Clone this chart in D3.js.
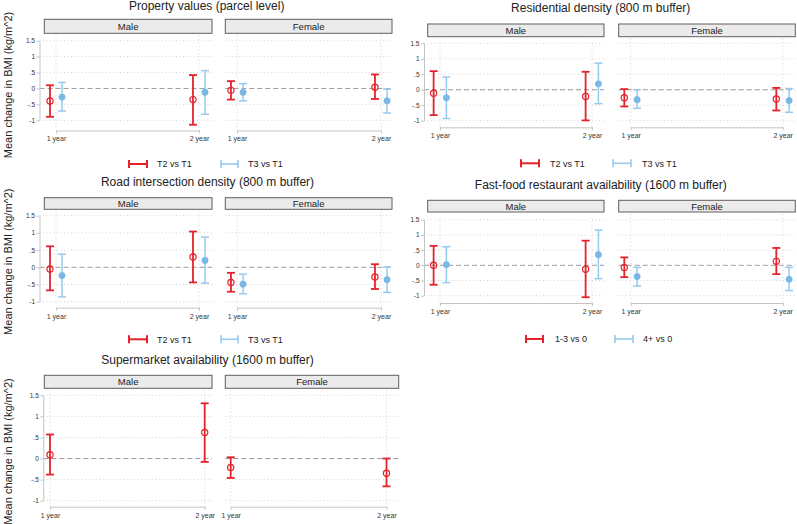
<!DOCTYPE html>
<html><head><meta charset="utf-8">
<script src="https://cdn.jsdelivr.net/npm/d3@7"></script>
<style>body{margin:0;background:#fff} svg{display:block;font-family:"Liberation Sans",Arial,sans-serif}</style>
</head><body><svg id="c" width="797" height="524"></svg>
<script>
// ---------- data ----------
const periods = [1, 2];
const periodLabels = ["1 year", "2 year"];
const sexes = ["Male", "Female"];
const yTicks = [1.5, 1, 0.5, 0, -0.5, -1];
const yTickLabels = ["1.5", "1", ".5", "0", "-.5", "-1"];
const yTitle = "Mean change in BMI (kg/m^2)";
const panelTitles = [
  "Property values (parcel level)",
  "Residential density (800 m buffer)",
  "Road intersection density (800 m buffer)",
  "Fast-food restaurant availability (1600 m buffer)",
  "Supermarket availability (1600 m buffer)"
];
const legendTercile = ["T2 vs T1", "T3 vs T1"];
const legendFastFood = ["1-3 vs 0", "4+ vs 0"];

// order of values: Male 1 year, Male 2 year, Female 1 year, Female 2 year
const propT2Est = [-0.39, -0.35, -0.06, 0.04];
const propT2Lo  = [-0.89, -1.14, -0.35, -0.33];
const propT2Hi  = [0.10, 0.42, 0.23, 0.44];
const propT3Est = [-0.27, -0.12, -0.12, -0.39];
const propT3Lo  = [-0.71, -0.81, -0.39, -0.77];
const propT3Hi  = [0.19, 0.56, 0.15, -0.02];

const resT2Est = [-0.11, -0.22, -0.26, -0.30];
const resT2Lo  = [-0.82, -0.99, -0.54, -0.67];
const resT2Hi  = [0.60, 0.58, 0.02, 0.06];
const resT3Est = [-0.26, 0.19, -0.32, -0.35];
const resT3Lo  = [-0.93, -0.45, -0.60, -0.73];
const resT3Hi  = [0.41, 0.86, 0.00, 0.04];

const roadT2Est = [-0.05, 0.30, -0.44, -0.28];
const roadT2Lo  = [-0.67, -0.44, -0.71, -0.63];
const roadT2Hi  = [0.61, 1.04, -0.16, 0.09];
const roadT3Est = [-0.24, 0.20, -0.49, -0.36];
const roadT3Lo  = [-0.86, -0.46, -0.77, -0.73];
const roadT3Hi  = [0.38, 0.88, -0.20, 0.01];

const ffLowEst  = [0.00, -0.13, -0.07, 0.13];
const ffLowLo   = [-0.64, -1.05, -0.39, -0.29];
const ffLowHi   = [0.64, 0.81, 0.26, 0.57];
const ffHighEst = [0.02, 0.35, -0.37, -0.46];
const ffHighLo  = [-0.57, -0.44, -0.68, -0.83];
const ffHighHi  = [0.61, 1.16, -0.07, -0.07];

const smEst = [0.09, 0.62, -0.21, -0.35];
const smLo  = [-0.38, -0.08, -0.46, -0.66];
const smHi  = [0.57, 1.31, 0.03, 0.00];

// ---------- styles ----------
const RED = "#e3222b", BLUE_BAR = "#96caee", BLUE_PT = "#78b8e6";

const panels = [
  { title: panelTitles[0], legend: legendTercile,
    series: [{est: propT2Est, lo: propT2Lo, hi: propT2Hi}, {est: propT3Est, lo: propT3Lo, hi: propT3Hi}],
    L: {titleX: 206.7, titleY: 10, stripY: [19.3, 33.3], strips: [[44.3, 212], [225.3, 392]],
        plotX: [[39.5, 212], [225.3, 392]], ticks: [[56, 199], [237, 381]], yAxisX: 39.5,
        yRange: [120.3, 40.7], axisY: 130.5, legendY: 164, legendX: [[129, 147, 157], [221, 238, 248]], yTitleY: 85 } },
  { title: panelTitles[1], legend: legendTercile,
    series: [{est: resT2Est, lo: resT2Lo, hi: resT2Hi}, {est: resT3Est, lo: resT3Lo, hi: resT3Hi}],
    L: {titleX: 600.7, titleY: 12, stripY: [24, 36.7], strips: [[427.7, 604], [618.7, 795.3]],
        plotX: [[424, 604], [618.7, 795.3]], ticks: [[440, 592], [630.7, 782.7]], yAxisX: 424,
        yRange: [120.7, 43.3], axisY: 127.3, legendY: 163.3, legendX: [[521, 539, 550], [613, 631, 642]], yTitleY: null } },
  { title: panelTitles[2], legend: legendTercile,
    series: [{est: roadT2Est, lo: roadT2Lo, hi: roadT2Hi}, {est: roadT3Est, lo: roadT3Lo, hi: roadT3Hi}],
    L: {titleX: 207.5, titleY: 186, stripY: [197.7, 209.3], strips: [[44.3, 212], [225.3, 392]],
        plotX: [[39.5, 212], [225.3, 392]], ticks: [[56, 199], [237, 381]], yAxisX: 39.5,
        yRange: [301.7, 215.7], axisY: 307.7, legendY: 339.3, legendX: [[129, 147, 157], [221, 238, 248]], yTitleY: 261.7 } },
  { title: panelTitles[3], legend: legendFastFood,
    series: [{est: ffLowEst, lo: ffLowLo, hi: ffLowHi}, {est: ffHighEst, lo: ffHighLo, hi: ffHighHi}],
    L: {titleX: 600.8, titleY: 189, stripY: [200.3, 212], strips: [[427.7, 604], [618.7, 795.3]],
        plotX: [[424, 604], [618.7, 795.3]], ticks: [[440, 592], [630.7, 782.7]], yAxisX: 424,
        yRange: [295.7, 219.7], axisY: 303, legendY: 339, legendX: [[526, 543, 555], [615, 633, 643]], yTitleY: null } },
  { title: panelTitles[4], legend: null,
    series: [{est: smEst, lo: smLo, hi: smHi}],
    L: {titleX: 207.5, titleY: 364, stripY: [375.3, 388.3], strips: [[44.3, 212], [225.3, 398.7]],
        plotX: [[43.3, 212], [225.3, 398.7]], ticks: [[50, 204.7], [230.7, 386.5]], yAxisX: 43.3,
        yRange: [500.7, 395.3], axisY: 506.7, legendY: null, legendX: null, yTitleY: 451.5 } }
];

const svg = d3.select("#c");
svg.append("rect").attr("width", 797).attr("height", 524).attr("fill", "#fff");

const seriesStyle = [
  {bar: RED, width: 1.8, fill: "none", stroke: RED},
  {bar: BLUE_BAR, width: 1.5, fill: BLUE_PT, stroke: BLUE_PT}
];

panels.forEach(p => {
  const L = p.L;
  const g = svg.append("g");
  // title
  g.append("text").attr("x", L.titleX).attr("y", L.titleY).attr("text-anchor", "middle")
    .attr("font-size", 12).attr("fill", "#222").text(p.title);
  // y title
  if (L.yTitleY !== null) {
    g.append("text").attr("transform", `translate(11.5,${L.yTitleY}) rotate(-90)`)
      .attr("text-anchor", "middle").attr("font-size", 11).attr("fill", "#222").text(yTitle);
  }
  const y = d3.scaleLinear().domain([-1, 1.5]).range(L.yRange);
  const nS = p.series.length;
  const offsets = nS === 2 ? [-0.042, 0.042] : [0];

  sexes.forEach((sex, si) => {
    const x = d3.scaleLinear().domain([1, 2]).range(L.ticks[si]);
    const [px0, px1] = L.plotX[si];
    const plotTop = L.stripY[1] + 2;
    // strip
    g.append("rect").attr("x", L.strips[si][0]).attr("y", L.stripY[0])
      .attr("width", L.strips[si][1] - L.strips[si][0]).attr("height", L.stripY[1] - L.stripY[0])
      .attr("fill", "#ebebeb").attr("stroke", "#5e5e5e").attr("stroke-width", 1);
    g.append("text").attr("x", (L.strips[si][0] + L.strips[si][1]) / 2)
      .attr("y", (L.stripY[0] + L.stripY[1]) / 2 + 3.4).attr("text-anchor", "middle")
      .attr("font-size", 9.5).attr("fill", "#222").text(sex);
    // horizontal dotted grid
    g.selectAll(null).data(yTicks.filter(t => t !== 0)).enter().append("line")
      .attr("x1", px0).attr("x2", px1).attr("y1", d => y(d)).attr("y2", d => y(d))
      .attr("stroke", "#d4d4d4").attr("stroke-width", 1).attr("stroke-dasharray", "1,2.5");
    // vertical dotted grid
    g.selectAll(null).data(periods).enter().append("line")
      .attr("x1", d => x(d)).attr("x2", d => x(d)).attr("y1", plotTop).attr("y2", L.axisY)
      .attr("stroke", "#d4d4d4").attr("stroke-width", 1).attr("stroke-dasharray", "1,2.5");
    // zero line
    g.append("line").attr("x1", px0).attr("x2", px1).attr("y1", y(0)).attr("y2", y(0))
      .attr("stroke", "#9a9a9a").attr("stroke-width", 1).attr("stroke-dasharray", "5,3");
    // x axis
    const xa = g.append("g").attr("transform", `translate(0,${L.axisY})`)
      .call(d3.axisBottom(x).tickValues(periods).tickFormat((d, i) => periodLabels[i]).tickSize(3).tickSizeOuter(0));
    xa.select(".domain").attr("stroke", "#c4c4c4");
    xa.selectAll(".tick line").attr("stroke", "#c4c4c4");
    xa.selectAll(".tick text").attr("font-size", 7).attr("fill", "#333").attr("y", 6)
      .attr("font-family", '"Liberation Sans",Arial,sans-serif');
    // y axis on male panel only
    if (si === 0) {
      const ya = g.append("g").attr("transform", `translate(${L.yAxisX},0)`)
        .call(d3.axisLeft(y).tickValues(yTicks).tickFormat((d, i) => yTickLabels[i]).tickSize(3).tickSizeOuter(0));
      ya.select(".domain").attr("stroke", "#c4c4c4");
      ya.selectAll(".tick line").attr("stroke", "#c4c4c4");
      ya.selectAll(".tick text").attr("font-size", 6.5).attr("fill", "#333").attr("x", -4.5)
        .attr("font-family", '"Liberation Sans",Arial,sans-serif');
    }
    // error bars
    p.series.forEach((s, k) => {
      const st = nS === 2 ? seriesStyle[k] : seriesStyle[0];
      const rows = periods.map((per, pi) => ({
        xv: per + offsets[k], est: s.est[si * 2 + pi], lo: s.lo[si * 2 + pi], hi: s.hi[si * 2 + pi]
      }));
      const eg = g.append("g");
      eg.selectAll(null).data(rows).enter().append("line")
        .attr("x1", d => x(d.xv)).attr("x2", d => x(d.xv))
        .attr("y1", d => y(d.lo)).attr("y2", d => y(d.hi))
        .attr("stroke", st.bar).attr("stroke-width", st.width);
      ["lo", "hi"].forEach(key => {
        eg.selectAll(null).data(rows).enter().append("line")
          .attr("x1", d => x(d.xv) - 4).attr("x2", d => x(d.xv) + 4)
          .attr("y1", d => y(d[key])).attr("y2", d => y(d[key]))
          .attr("stroke", st.bar).attr("stroke-width", st.width);
      });
      eg.selectAll(null).data(rows).enter().append("circle")
        .attr("cx", d => x(d.xv)).attr("cy", d => y(d.est)).attr("r", 3.1)
        .attr("fill", k === 0 ? "#fff" : st.fill).attr("fill-opacity", k === 0 ? 0 : 1)
        .attr("stroke", st.stroke).attr("stroke-width", k === 0 ? 1.2 : 0.8);
    });
  });

  // legend
  if (p.legend) {
    p.legend.forEach((lab, k) => {
      const [a, b, t] = L.legendX[k];
      const col = seriesStyle[k].bar;
      const w = k === 0 ? 2 : 1.6;
      g.append("line").attr("x1", a).attr("x2", b).attr("y1", L.legendY).attr("y2", L.legendY)
        .attr("stroke", col).attr("stroke-width", w);
      [a, b].forEach(xx => g.append("line").attr("x1", xx).attr("x2", xx)
        .attr("y1", L.legendY - 4).attr("y2", L.legendY + 4).attr("stroke", col).attr("stroke-width", w));
      g.append("text").attr("x", t).attr("y", L.legendY + 3.3).attr("font-size", 9)
        .attr("fill", "#222").text(lab);
    });
  }
});
</script></body></html>
